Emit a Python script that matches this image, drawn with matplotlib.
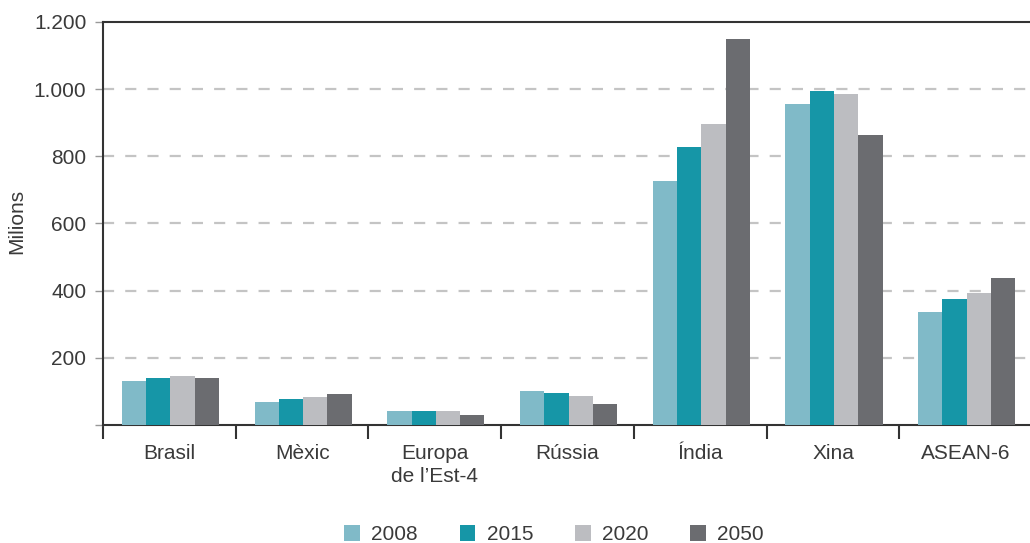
import matplotlib
matplotlib.use("Agg")
import matplotlib.pyplot as plt
import numpy as np
from matplotlib.patches import Patch

categories = ["Brasil", "Mèxic", "Europa\nde l\u2019Est-4", "Rússia", "Índia", "Xina", "ASEAN-6"]
years = ["2008", "2015", "2020", "2050"]
v2008 = [130, 68, 41, 101, 727, 956, 336]
v2015 = [139, 77, 41, 95, 828, 995, 374]
v2020 = [145, 82, 41, 86, 896, 986, 392]
v2050 = [139, 91, 29, 63, 1150, 864, 437]
colors = ["#80bac8", "#1696a7", "#bcbdc1", "#6b6c70"]
yticks = [200, 400, 600, 800, 1000, 1200]
ytick_labels = ["200", "400", "600", "800", "1.000", "1.200"]

plt.rcParams["font.family"] = ["Liberation Sans", "DejaVu Sans"]
text_color = "#3a3a3a"
fs = 15

fig = plt.figure(figsize=(10.30, 5.43), dpi=100)
ax = fig.add_axes([0.100, 0.2173, 0.902, 0.7422])

series = [v2008, v2015, v2020, v2050]
x = np.arange(len(categories))
bw = 0.183
for i, (vals, c) in enumerate(zip(series, colors)):
    ax.bar(x + (i - 1.5) * bw + 0.008, vals, width=bw, color=c, linewidth=0, zorder=3)

ax.set_xlim(-0.5, 6.5)
ax.set_ylim(0, 1200)

# dashed horizontal gridlines
for yv in yticks[:-1]:
    ax.axhline(yv, color="#c4c4c4", lw=1.6, ls=(0, (5, 5)), zorder=1)

ax.set_yticks([0] + yticks)
ax.set_yticklabels([""] + ytick_labels)
ax.tick_params(axis="y", direction="out", length=6, width=1, color="#999999",
               labelsize=fs, labelcolor=text_color, pad=6)

ax.set_xticks(x)
ax.set_xticklabels(categories, linespacing=1.25)
ax.tick_params(axis="x", which="major", length=0, labelsize=fs, labelcolor=text_color, pad=14)
ax.set_xticks(np.arange(-0.5, 7.0, 1.0), minor=True)
ax.tick_params(axis="x", which="minor", direction="out", length=10, width=1.5, color="#333333")

for s in ["left", "bottom", "top"]:
    ax.spines[s].set_color("#333333")
    ax.spines[s].set_linewidth(1.5)
ax.spines["right"].set_visible(False)

ax.set_ylabel("Milions", fontsize=fs, color=text_color, labelpad=4)
ax.yaxis.set_label_coords(-0.0825, 0.505)

handles = [Patch(facecolor=c, edgecolor="none", label=y) for c, y in zip(colors, years)]
fig.legend(handles=handles, loc="center", bbox_to_anchor=(0.538, 0.015), ncol=4,
           frameon=False, fontsize=fs, handlelength=0.75, handleheight=0.75,
           columnspacing=2.0, handletextpad=0.55, labelcolor=text_color)

fig.savefig("out.png", dpi=100)
